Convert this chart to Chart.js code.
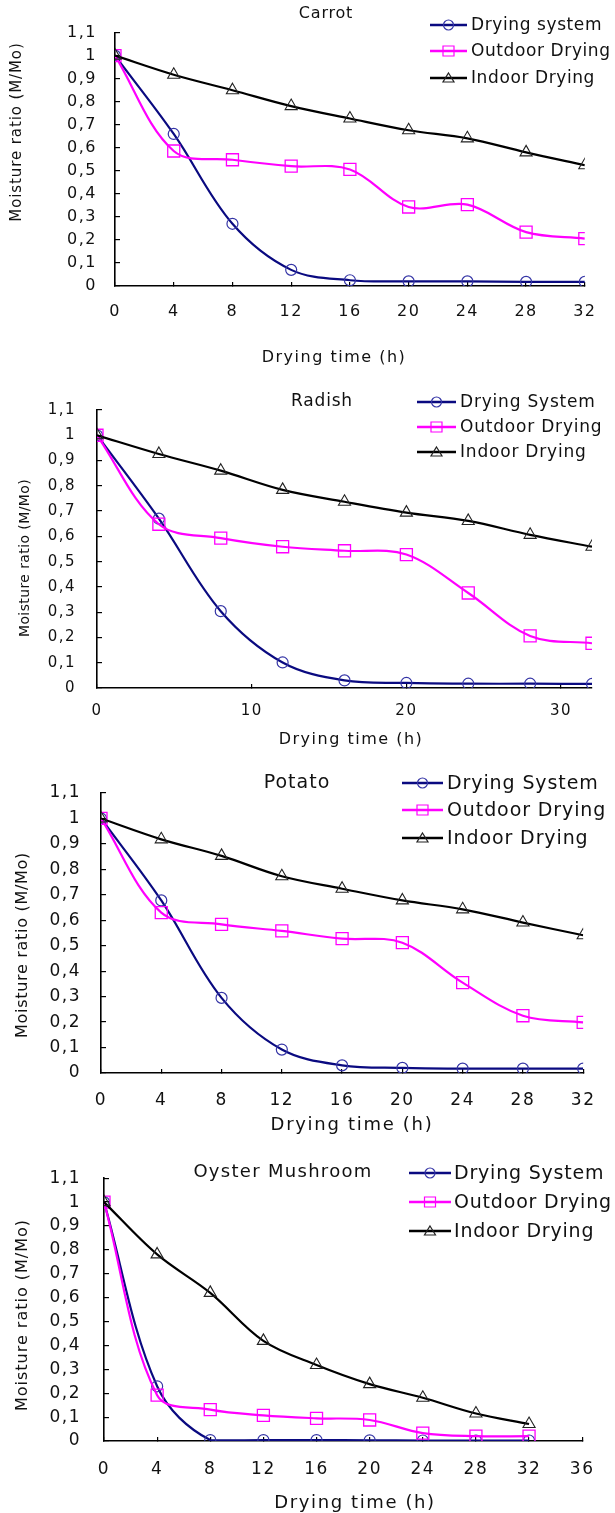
<!DOCTYPE html>
<html>
<head>
<meta charset="utf-8">
<script src="https://cdn.jsdelivr.net/npm/chart.js@4.4.1/dist/chart.umd.min.js"></script>
<style>
  html, body { margin: 0; padding: 0; background: #fff; }
  body { width: 615px; height: 1513px; position: relative; overflow: hidden; }
  .box { position: absolute; left: 0; width: 615px; }
  canvas { display: block; }
</style>
</head>
<body>
<div class="box" style="top:0px;height:375px"><canvas id="c1" width="615" height="375"></canvas></div>
<div class="box" style="top:375px;height:380px"><canvas id="c2" width="615" height="380"></canvas></div>
<div class="box" style="top:755px;height:385px"><canvas id="c3" width="615" height="385"></canvas></div>
<div class="box" style="top:1140px;height:373px"><canvas id="c4" width="615" height="373"></canvas></div>
<script>
// ---------------- DATA ----------------
const hours = [0, 4, 8, 12, 16, 20, 24, 28, 32];

const seriesNamesCarrot = ['Drying system', 'Outdoor Drying', 'Indoor Drying'];
const seriesNames = ['Drying System', 'Outdoor Drying', 'Indoor Drying'];

const carrotSystem  = [1, 0.66, 0.27, 0.07, 0.025, 0.02, 0.02, 0.018, 0.018];
const carrotOutdoor = [1, 0.586, 0.548, 0.52, 0.506, 0.343, 0.353, 0.234, 0.206];
const carrotIndoor  = [1, 0.917, 0.85, 0.781, 0.727, 0.676, 0.641, 0.58, 0.524];

const radishSystem  = [1, 0.67, 0.304, 0.101, 0.03, 0.02, 0.017, 0.017, 0.016];
const radishOutdoor = [1, 0.648, 0.593, 0.559, 0.543, 0.528, 0.376, 0.206, 0.177];
const radishIndoor  = [1, 0.926, 0.86, 0.784, 0.737, 0.694, 0.661, 0.606, 0.559];

const potatoSystem  = [1, 0.678, 0.295, 0.092, 0.03, 0.02, 0.017, 0.017, 0.017];
const potatoOutdoor = [1, 0.63, 0.584, 0.558, 0.528, 0.512, 0.355, 0.225, 0.199];
const potatoIndoor  = [1, 0.918, 0.853, 0.773, 0.724, 0.678, 0.643, 0.591, 0.541];

const oysterSystem  = [1, 0.229, 0.004, 0.004, 0.004, 0.003, 0.002, 0.002, 0.002];
const oysterOutdoor = [1, 0.192, 0.131, 0.107, 0.095, 0.088, 0.033, 0.02, 0.02];
const oysterIndoor  = [1, 0.781, 0.62, 0.419, 0.318, 0.238, 0.181, 0.115, 0.071];

const yTickValues = [0, 0.1, 0.2, 0.3, 0.4, 0.5, 0.6, 0.7, 0.8, 0.9, 1, 1.1];
const yTickLabels = ['0', '0,1', '0,2', '0,3', '0,4', '0,5', '0,6', '0,7', '0,8', '0,9', '1', '1,1'];
const xTicks4     = [0, 4, 8, 12, 16, 20, 24, 28, 32];
const xTicksRad   = [0, 10, 20, 30];
const xTicksOys   = [0, 4, 8, 12, 16, 20, 24, 28, 32, 36];

const chartTitles = ['Carrot', 'Radish', 'Potato', 'Oyster Mushroom'];
const yAxisTitle = 'Moisture ratio (M/Mo)';
const xAxisTitle = 'Drying time (h)';

// ---------------- STYLE ----------------
const FONT = "'DejaVu Sans', 'Liberation Sans', sans-serif";
const NAVY = '#0a0a80';
const NAVY_PT = '#3535a6';
const MAGENTA = '#ff00ff';
const BLACK = '#000000';

function pts(vals) { return hours.map((h, i) => ({ x: h, y: vals[i] })); }

function makeDatasets(names, sys, out, ind) {
  return [
    { label: names[0], data: pts(sys), borderColor: NAVY, borderWidth: 2.2,
      pointStyle: 'circle', pointRadius: 5.5, pointBorderColor: NAVY_PT, pointBorderWidth: 1.2,
      pointBackgroundColor: 'rgba(0,0,0,0)', tension: 0.35, order: 3 },
    { label: names[1], data: pts(out), borderColor: MAGENTA, borderWidth: 2.2,
      pointStyle: 'rect', pointRadius: 8.5, pointBorderColor: MAGENTA, pointBorderWidth: 1.3,
      pointBackgroundColor: 'rgba(0,0,0,0)', tension: 0.35, order: 2 },
    { label: names[2], data: pts(ind), borderColor: BLACK, borderWidth: 2.2,
      pointStyle: 'triangle', pointRadius: 7, pointBorderColor: '#222', pointBorderWidth: 1.1,
      pointBackgroundColor: 'rgba(0,0,0,0)', tension: 0.35, order: 1 }
  ];
}

function drawMarker(ctx, style, x, y, color) {
  ctx.save();
  ctx.strokeStyle = color; ctx.lineWidth = 1.2;
  ctx.beginPath();
  if (style === 'circle') {
    ctx.arc(x, y, 5, 0, Math.PI * 2);
  } else if (style === 'rect') {
    ctx.rect(x - 5.5, y - 5, 11, 10);
  } else {
    ctx.moveTo(x, y - 5); ctx.lineTo(x + 5.5, y + 4); ctx.lineTo(x - 5.5, y + 4); ctx.closePath();
  }
  ctx.stroke();
  ctx.restore();
}

function setFont(ctx, size, spacing) {
  ctx.font = size + 'px ' + FONT;
  ctx.letterSpacing = (spacing || 0) + 'px';
}

function textPlugin(L) {
  return {
    id: 'texts',
    beforeDraw(chart) {
      chart.ctx.letterSpacing = L.tickSpacing + 'px';
    },
    afterDraw(chart) {
      const ctx = chart.ctx;
      ctx.save();
      ctx.fillStyle = '#111';
      ctx.textBaseline = 'middle';
      // chart title
      setFont(ctx, L.titleSize, L.titleSp);
      ctx.textAlign = 'center';
      ctx.fillText(L.title, L.titleX, L.titleY);
      // x axis title
      setFont(ctx, L.xtSize, L.xtSp);
      ctx.fillText(xAxisTitle, L.xtX, L.xtY);
      // y axis title
      ctx.save();
      ctx.translate(L.ytX, L.ytY);
      ctx.rotate(-Math.PI / 2);
      setFont(ctx, L.ytSize, L.ytSp);
      ctx.fillText(yAxisTitle, 0, 0);
      ctx.restore();
      // legend
      setFont(ctx, L.legSize, L.legSp);
      ctx.textAlign = 'left';
      chart.data.datasets.forEach((ds, i) => {
        const y = L.legY[i];
        ctx.save();
        ctx.strokeStyle = ds.borderColor; ctx.lineWidth = 2.4;
        ctx.beginPath(); ctx.moveTo(L.legX1, y); ctx.lineTo(L.legX2, y); ctx.stroke();
        ctx.restore();
        drawMarker(ctx, ds.pointStyle, (L.legX1 + L.legX2) / 2, y, ds.pointBorderColor);
        ctx.fillStyle = '#111';
        ctx.fillText(ds.label, L.legText, y + 1);
      });
      ctx.restore();
    }
  };
}

function makeChart(id, datasets, xTicks, xMax, L) {
  const H = document.getElementById(id).height;
  const xScaleH = 40;
  return new Chart(document.getElementById(id), {
    type: 'line',
    data: { datasets },
    options: {
      responsive: false,
      animation: false,
      events: [],
      layout: { padding: { left: 0, top: L.top, right: 615 - L.right, bottom: H - L.bottom - xScaleH } },
      plugins: { legend: { display: false }, title: { display: false }, tooltip: { enabled: false } },
      scales: {
        x: {
          type: 'linear', min: 0, max: xMax,
          afterBuildTicks: s => { s.ticks = xTicks.map(v => ({ value: v })); },
          afterFit: s => { s.height = xScaleH; },
          grid: { display: true, drawOnChartArea: false, drawTicks: true, tickLength: -4, color: '#000', lineWidth: 1.2 },
          border: { display: true, color: '#000', width: 1.6 },
          ticks: { color: '#111', padding: L.xPad, maxRotation: 0, autoSkip: false,
                   font: { family: FONT, size: L.tickSize },
                   callback: v => String(v) }
        },
        y: {
          type: 'linear', min: 0, max: 1.1,
          afterBuildTicks: s => { s.ticks = yTickValues.map(v => ({ value: v })); },
          afterFit: s => { s.width = L.left; },
          grid: { display: true, drawOnChartArea: false, drawTicks: true, tickLength: -5, color: '#000', lineWidth: 1.2 },
          border: { display: true, color: '#000', width: 1.6 },
          ticks: { color: '#111', padding: L.yPad, autoSkip: false,
                   font: { family: FONT, size: L.tickSize },
                   callback: (v, i) => yTickLabels[i] }
        }
      }
    },
    plugins: [textPlugin(L)]
  });
}

makeChart('c1', makeDatasets(seriesNamesCarrot, carrotSystem, carrotOutdoor, carrotIndoor), xTicks4, 32, {
  left: 115, top: 23, right: 598, bottom: 286, tickSize: 16, tickSpacing: 1.5, xPad: 20, yPad: 23,
  title: chartTitles[0], titleX: 326, titleY: 14, titleSize: 16, titleSp: 0.8,
  xtX: 334, xtY: 358, xtSize: 16, xtSp: 1.5, ytX: 17, ytY: 132, ytSize: 15, ytSp: 0.9,
  legX1: 430, legX2: 467, legText: 471, legY: [25, 51, 78], legSize: 17, legSp: 0.6
});

makeChart('c2', makeDatasets(seriesNames, radishSystem, radishOutdoor, radishIndoor), xTicksRad, 32, {
  left: 97, top: 33, right: 592, bottom: 313, tickSize: 15, tickSpacing: 1.5, xPad: 18, yPad: 26,
  title: chartTitles[1], titleX: 322, titleY: 27, titleSize: 17, titleSp: 0.8,
  xtX: 351, xtY: 365, xtSize: 16, xtSp: 1.5, ytX: 25, ytY: 183, ytSize: 14, ytSp: 0.4,
  legX1: 417, legX2: 456, legText: 460, legY: [27, 52, 77], legSize: 17, legSp: 0.8
});

makeChart('c3', makeDatasets(seriesNames, potatoSystem, potatoOutdoor, potatoIndoor), xTicks4, 32, {
  left: 101, top: 38, right: 590, bottom: 318, tickSize: 17, tickSpacing: 1.5, xPad: 21, yPad: 25,
  title: chartTitles[2], titleX: 297, titleY: 28, titleSize: 19, titleSp: 1,
  xtX: 352, xtY: 370, xtSize: 18, xtSp: 1.7, ytX: 23, ytY: 190, ytSize: 16, ytSp: 0.7,
  legX1: 402, legX2: 443, legText: 447, legY: [28, 55, 83], legSize: 19, legSp: 0.9
});

makeChart('c4', makeDatasets(seriesNames, oysterSystem, oysterOutdoor, oysterIndoor), xTicksOys, 36, {
  left: 104, top: 27, right: 596, bottom: 301, tickSize: 17, tickSpacing: 1.5, xPad: 22, yPad: 28,
  title: chartTitles[3], titleX: 283, titleY: 32, titleSize: 18, titleSp: 1.3,
  xtX: 355, xtY: 363, xtSize: 18, xtSp: 1.6, ytX: 23, ytY: 175, ytSize: 16, ytSp: 1.0,
  legX1: 409, legX2: 451, legText: 454, legY: [33, 62, 91], legSize: 19, legSp: 0.8
});
</script>
</body>
</html>
